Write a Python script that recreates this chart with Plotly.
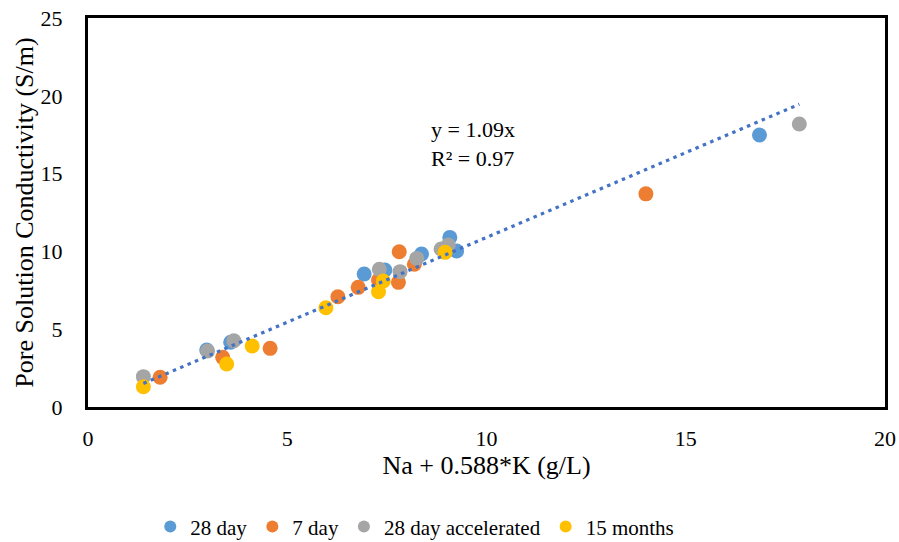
import plotly.graph_objects as go

# Data
x_28day = [2.98, 3.58, 6.93, 7.45, 8.37, 9.08, 9.25, 16.85]
y_28day = [3.66, 4.16, 8.55, 8.80, 9.83, 10.90, 10.03, 17.48]

x_7day = [1.81, 3.38, 4.57, 6.27, 6.78, 7.29, 7.79, 7.81, 8.19, 14.0]
y_7day = [1.91, 3.19, 3.77, 7.09, 7.69, 8.16, 8.01, 9.98, 9.17, 13.7]

x_acc = [1.39, 3.00, 3.66, 7.31, 7.83, 8.25, 8.86, 9.04, 17.85]
y_acc = [1.95, 3.60, 4.26, 8.85, 8.70, 9.55, 10.15, 10.41, 18.19]

x_15m = [1.39, 3.48, 4.12, 5.97, 7.41, 7.29, 8.96]
y_15m = [1.30, 2.76, 3.92, 6.38, 8.10, 7.41, 9.94]

slope = 1.09
trend_x = [1.39, 17.85]
trend_y = [slope * v for v in trend_x]

font_family = "Liberation Serif, Times New Roman, serif"

fig = go.Figure()
series = [
    ("28 day", x_28day, y_28day, "#5B9BD5"),
    ("7 day", x_7day, y_7day, "#ED7D31"),
    ("28 day accelerated", x_acc, y_acc, "#A5A5A5"),
    ("15 months", x_15m, y_15m, "#FFC000"),
]
for name, xs, ys, col in series:
    fig.add_trace(go.Scatter(x=xs, y=ys, mode="markers", name=name,
                             marker=dict(color=col, size=15, line=dict(width=0))))

fig.add_trace(go.Scatter(x=trend_x, y=trend_y, mode="lines", showlegend=False,
                         line=dict(color="#4472C4", width=3.2, dash="3.5px,4.5px"),
                         hoverinfo="skip"))

fig.add_annotation(x=0.428, y=0.676, xref="paper", yref="paper",
                   text="y = 1.09x<br>R² = 0.97", showarrow=False,
                   xanchor="left", yanchor="middle", align="left",
                   font=dict(family=font_family, size=22, color="black"))

fig.update_layout(
    width=899, height=542,
    margin=dict(l=88, r=14, t=18, b=135, autoexpand=False),
    paper_bgcolor="white", plot_bgcolor="white",
    font=dict(family=font_family, size=22, color="black"),
    showlegend=True,
    legend=dict(orientation="h", x=0.41, xanchor="center", y=0.028, yanchor="middle",
                yref="container",
                font=dict(family=font_family, size=21), itemsizing="constant",
                tracegroupgap=0, itemwidth=30),
    xaxis=dict(range=[0, 20], dtick=5, showgrid=False, zeroline=False,
               showline=True, linecolor="black", linewidth=3, mirror=True,
               ticks="", ticklabelstandoff=10, automargin=False,
               title=dict(text="Na + 0.588*K (g/L)", standoff=1,
                          font=dict(family=font_family, size=26)),
               tickfont=dict(family=font_family, size=22)),
    yaxis=dict(range=[0, 25], dtick=5, showgrid=False, zeroline=False,
               showline=True, linecolor="black", linewidth=3, mirror=True,
               ticks="", ticklabelstandoff=18, automargin=False,
               title=dict(text="Pore Solution Conductivity (S/m)", standoff=0,
                          font=dict(family=font_family, size=26)),
               tickfont=dict(family=font_family, size=22)),
)

fig.write_html("out.html")
